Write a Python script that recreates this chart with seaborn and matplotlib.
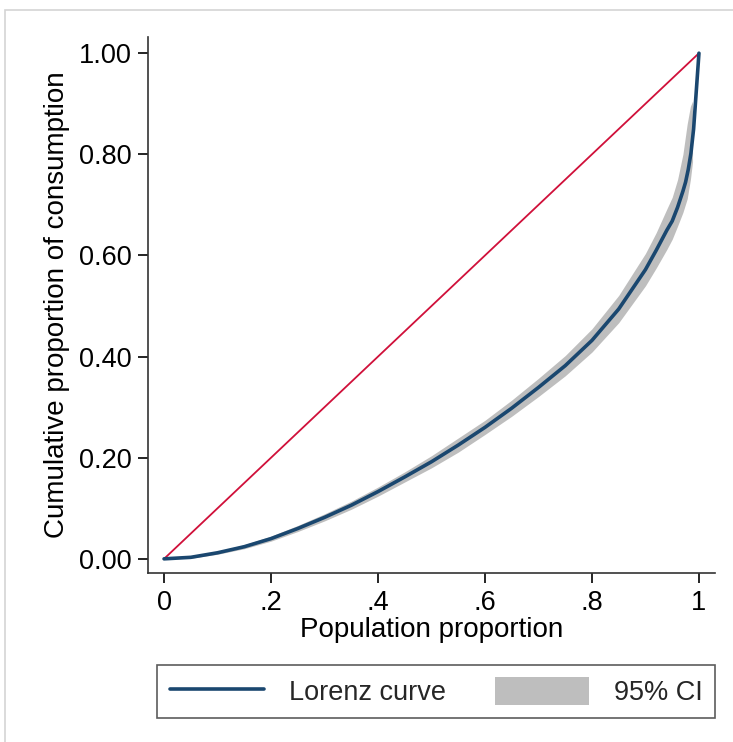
import numpy as np
import pandas as pd
import matplotlib
matplotlib.use("Agg")
import matplotlib.pyplot as plt
import seaborn as sns
from matplotlib.patches import Patch, Rectangle
from matplotlib.lines import Line2D

# Cumulative population share and the estimated Lorenz ordinates
pop_share = [0.0, 0.05, 0.1, 0.15, 0.2, 0.25, 0.3, 0.35, 0.4, 0.45, 0.5,
             0.55, 0.6, 0.65, 0.7, 0.75, 0.8, 0.85, 0.9, 0.92, 0.94, 0.95,
             0.96, 0.97, 0.975, 0.98, 0.985, 0.99, 0.994, 0.997, 1.0]
lorenz = [0.0, 0.003, 0.012, 0.024, 0.040, 0.060, 0.082, 0.106, 0.133,
          0.162, 0.192, 0.225, 0.260, 0.298, 0.339, 0.382, 0.432, 0.494,
          0.572, 0.610, 0.650, 0.668, 0.695, 0.727, 0.745, 0.770, 0.802,
          0.850, 0.910, 0.955, 1.0]

# 95% confidence band (estimated only up to the last interior point)
ci_share = [0.0, 0.05, 0.1, 0.15, 0.2, 0.25, 0.3, 0.35, 0.4, 0.45, 0.5,
            0.55, 0.6, 0.65, 0.7, 0.75, 0.8, 0.85, 0.9, 0.92, 0.94, 0.95,
            0.96, 0.97, 0.978, 0.984, 0.988]
ci_low = [0.0, 0.001, 0.009, 0.020, 0.035, 0.054, 0.075, 0.098, 0.124,
          0.152, 0.180, 0.211, 0.246, 0.282, 0.321, 0.362, 0.409, 0.467,
          0.540, 0.575, 0.612, 0.632, 0.658, 0.685, 0.712, 0.750, 0.785]
ci_high = [0.0, 0.005, 0.015, 0.028, 0.045, 0.066, 0.089, 0.114, 0.142,
           0.172, 0.204, 0.239, 0.274, 0.314, 0.357, 0.402, 0.455, 0.521,
           0.604, 0.645, 0.692, 0.715, 0.750, 0.800, 0.860, 0.895, 0.905]

x_ticks = [0, 0.2, 0.4, 0.6, 0.8, 1.0]
x_tick_labels = ["0", ".2", ".4", ".6", ".8", "1"]
y_ticks = [0.0, 0.2, 0.4, 0.6, 0.8, 1.0]
y_tick_labels = ["0.00", "0.20", "0.40", "0.60", "0.80", "1.00"]

curve = pd.DataFrame({"p": pop_share, "L": lorenz})
ci = pd.DataFrame({"p": ci_share, "lo": ci_low, "hi": ci_high})
equality = pd.DataFrame({"p": [0.0, 1.0], "L": [0.0, 1.0]})

sns.set_theme(style="white")
plt.rcParams["font.family"] = ["Liberation Sans", "DejaVu Sans"]

navy = "#1a476f"
red = "#d0103a"
band = "#bebebe"

fig = plt.figure(figsize=(7.33, 7.42), dpi=100)
ax = fig.add_axes([148 / 733, 169 / 742, (715 - 148) / 733, (573 - 37) / 742])

ax.fill_between(ci["p"], ci["lo"], ci["hi"], color=band, linewidth=0,
                zorder=1)
sns.lineplot(data=equality, x="p", y="L", color=red, linewidth=1.3, ax=ax,
             zorder=2)
sns.lineplot(data=curve, x="p", y="L", color=navy, linewidth=2.6, ax=ax,
             zorder=3)

ax.set_xlim(-0.03, 1.03)
ax.set_ylim(-0.028, 1.032)
ax.set_xticks(x_ticks)
ax.set_xticklabels(x_tick_labels)
ax.set_yticks(y_ticks)
ax.set_yticklabels(y_tick_labels)
ax.set_xlabel("Population proportion", fontsize=20, labelpad=1, color="black")
ax.set_ylabel("Cumulative proportion of consumption", fontsize=20,
              labelpad=6, color="black")
ax.tick_params(axis="both", which="major", direction="out", length=7,
               width=1.2, color="black", labelsize=19.5, labelcolor="black",
               pad=5, bottom=True, left=True)
for side in ["top", "right"]:
    ax.spines[side].set_visible(False)
for side in ["left", "bottom"]:
    ax.spines[side].set_color("#333333")
    ax.spines[side].set_linewidth(1.2)

handles = [Line2D([0], [0], color=navy, linewidth=2.6),
           Patch(facecolor=band, edgecolor="none")]
leg = fig.legend(handles, ["Lorenz curve", "95% CI"], loc="center",
                 bbox_to_anchor=(436 / 733, 50.5 / 742), ncol=2,
                 fontsize=19.5, frameon=True, fancybox=False,
                 edgecolor="#333333", handlelength=3.5, handleheight=1.2,
                 columnspacing=1.8, handletextpad=0.9, borderpad=0.45)
leg.get_frame().set_linewidth(1.2)

# light outer frame around the graph region
fig.patches.append(Rectangle((5 / 733, -0.05), 1.1, 1 - 10 / 742 + 0.05,
                             transform=fig.transFigure, fill=False,
                             edgecolor="#d4d4d4", linewidth=1.2, zorder=0))

fig.savefig("out.png", dpi=100, facecolor="white")
